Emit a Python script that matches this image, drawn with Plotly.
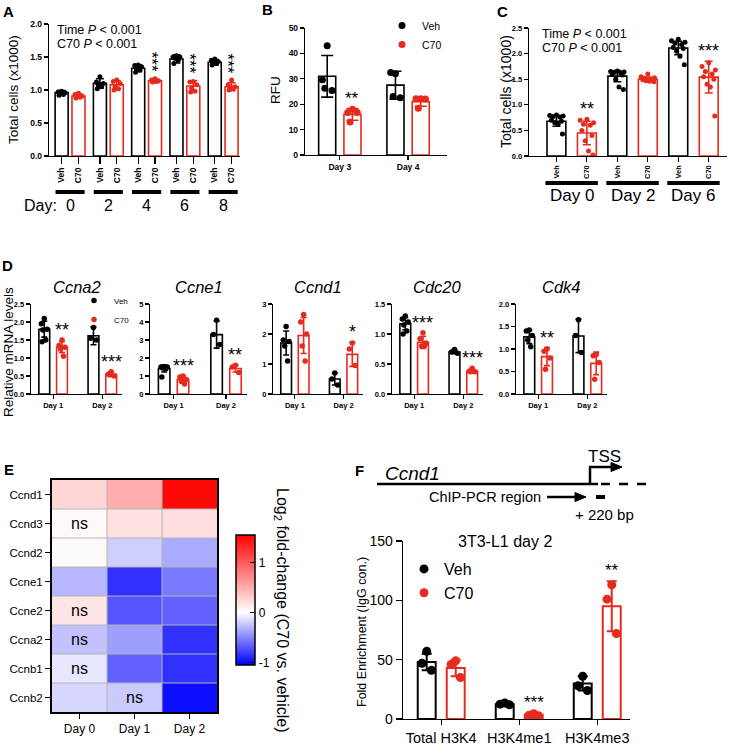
import numpy as np
import plotly.graph_objects as go

W, H = 733, 746
FONT = "Liberation Sans, Arial, Helvetica, sans-serif"
BLACK = "#000000"
RED = "#e62b1e"

# ---------------- Panel A data ----------------
A_days = ["0", "2", "4", "6", "8"]
A_groups = ["Veh", "C70"]
A_veh_mean = [0.96, 1.10, 1.33, 1.47, 1.42]
A_veh_sd = [0.03, 0.07, 0.05, 0.06, 0.04]
A_c70_mean = [0.91, 1.08, 1.14, 1.06, 1.05]
A_c70_sd = [0.03, 0.06, 0.02, 0.08, 0.06]
A_veh_pts = [[0.98, 0.97, 0.96, 0.95, 0.93, 0.92],
             [1.20, 1.12, 1.10, 1.08, 1.05, 1.02],
             [1.38, 1.37, 1.35, 1.32, 1.30, 1.27],
             [1.52, 1.50, 1.50, 1.48, 1.45, 1.40],
             [1.47, 1.45, 1.43, 1.42, 1.40, 1.38]]
A_c70_pts = [[0.95, 0.93, 0.91, 0.90, 0.89, 0.88],
             [1.15, 1.13, 1.10, 1.05, 1.02, 1.00],
             [1.17, 1.15, 1.14, 1.13, 1.13, 1.12],
             [1.13, 1.12, 1.08, 1.03, 0.98, 0.97],
             [1.15, 1.08, 1.05, 1.03, 1.02, 1.00]]
A_sig = ["", "", "***", "***", "***"]
A_stats = ["Time <i>P</i> < 0.001", "C70 <i>P</i> < 0.001"]

# ---------------- Panel B data ----------------
B_days = ["Day 3", "Day 4"]
B_veh_mean = [31.0, 27.5]
B_veh_sd = [8.2, 5.5]
B_c70_mean = [16.0, 21.0]
B_c70_sd = [2.3, 1.8]
B_veh_pts = [[43.0, 29.6, 25.4, 26.3], [32.0, 32.5, 22.5, 23.0]]
B_c70_pts = [[18.0, 16.7, 16.7, 13.0], [22.1, 22.1, 22.0, 18.4]]
B_sig = ["**", ""]

# ---------------- Panel C data ----------------
C_days = ["Day 0", "Day 2", "Day 6"]
C_veh_mean = [0.68, 1.56, 2.11]
C_veh_sd = [0.10, 0.11, 0.13]
C_c70_mean = [0.45, 1.50, 1.54]
C_c70_sd = [0.23, 0.04, 0.31]
C_veh_pts = [[0.80, 0.79, 0.78, 0.77, 0.76, 0.70, 0.68, 0.65, 0.62, 0.43],
             [1.66, 1.65, 1.64, 1.63, 1.62, 1.60, 1.58, 1.50, 1.35, 1.30],
             [2.28, 2.25, 2.22, 2.20, 2.18, 2.12, 2.10, 2.05, 1.95, 1.78]]
C_c70_pts = [[0.72, 0.70, 0.65, 0.62, 0.60, 0.50, 0.40, 0.30, 0.10, 0.02],
             [1.60, 1.55, 1.53, 1.52, 1.50, 1.49, 1.48, 1.47, 1.46, 1.45],
             [1.82, 1.75, 1.68, 1.65, 1.60, 1.55, 1.50, 1.40, 1.35, 0.78]]
C_sig = ["**", "", "***"]

# ---------------- Panel D data ----------------
D_genes = ["Ccna2", "Ccne1", "Ccnd1", "Cdc20", "Cdk4"]
D_days = ["Day 1", "Day 2"]
D_ymax = [2.5, 5, 3, 1.5, 2.0]
D_dtick = [0.5, 1, 1, 0.5, 0.5]
D_veh_mean = [[1.80, 1.62], [1.42, 3.30], [1.70, 0.50], [1.17, 0.70], [1.27, 1.29]]
D_veh_sd = [[0.22, 0.25], [0.20, 0.75], [0.40, 0.20], [0.10, 0.03], [0.15, 0.37]]
D_c70_mean = [[1.30, 0.55], [0.80, 1.42], [1.95, 1.32], [0.86, 0.38], [0.83, 0.68]]
D_c70_sd = [[0.15, 0.07], [0.20, 0.20], [0.60, 0.40], [0.10, 0.03], [0.20, 0.25]]
D_veh_pts = [[[2.10, 1.95, 1.80, 1.78, 1.50, 1.45], [1.85, 1.55, 1.50]],
             [[1.50, 1.50, 1.50, 1.45, 1.40, 0.95], [4.10, 3.30, 2.75]],
             [[2.25, 1.80, 1.75, 1.60, 1.10], [0.70, 0.50, 0.30]],
             [[1.30, 1.25, 1.20, 1.15, 1.05, 1.00], [0.74, 0.70, 0.68]],
             [[1.42, 1.40, 1.30, 1.20, 1.05], [1.65, 1.30, 0.92]]]
D_c70_pts = [[[1.50, 1.35, 1.30, 1.25, 1.05], [0.62, 0.55, 0.50, 0.55]],
             [[1.00, 0.95, 0.80, 0.70, 0.55], [1.60, 1.50, 1.20]],
             [[2.65, 2.40, 2.00, 1.60, 1.10], [1.70, 1.50, 0.95]],
             [[1.02, 0.92, 0.85, 0.80, 0.80], [0.43, 0.38, 0.37, 0.37]],
             [[1.00, 0.95, 0.80, 0.55], [0.88, 0.85, 0.70, 0.33]]]
D_sig = [["**", "***"], ["***", "**"], ["", "*"], ["***", "***"], ["**", ""]]

# ---------------- Panel E data ----------------
E_genes = ["Ccnd1", "Ccnd3", "Ccnd2", "Ccne1", "Ccne2", "Ccna2", "Ccnb1", "Ccnb2"]
E_days = ["Day 0", "Day 1", "Day 2"]
E_log2fc = [[0.25, 0.50, 1.50],
            [0.04, 0.18, 0.20],
            [0.03, -0.20, -0.35],
            [-0.30, -0.85, -0.55],
            [0.15, -0.70, -0.65],
            [-0.25, -0.40, -0.85],
            [-0.10, -0.65, -0.85],
            [-0.17, -0.22, -1.00]]
E_ns = [["", "", ""], ["ns", "", ""], ["", "", ""], ["", "", ""],
        ["ns", "", ""], ["ns", "", ""], ["ns", "", ""], ["", "ns", ""]]

# ---------------- Panel F data ----------------
F_marks = ["Total H3K4", "H3K4me1", "H3K4me3"]
F_veh_mean = [48.0, 12.5, 30.0]
F_veh_sd = [7.0, 1.0, 6.0]
F_c70_mean = [43.0, 3.5, 95.0]
F_c70_sd = [7.0, 1.0, 21.0]
F_veh_pts = [[57.0, 47.0, 41.0], [13.5, 12.5, 12.0], [36.0, 28.0, 24.0]]
F_c70_pts = [[49.0, 46.0, 35.0], [4.5, 3.2, 2.8], [113.0, 101.0, 72.0]]
F_sig = ["", "***", "**"]

# ================= helpers =================
def PX(x):
    return x / W


def PY(y):
    return 1 - y / H


fig = go.Figure()
layout = {}
annotations = []
shapes = []

JIT = [0, -1, 1, -0.5, 0.5, -0.75, 0.75, -0.25, 0.25, 0.9]


def ax_names(n):
    if n == 1:
        return "x", "y", "xaxis", "yaxis"
    return f"x{n}", f"y{n}", f"xaxis{n}", f"yaxis{n}"


def setup_axes(n, xpx, ypx, xrange, yrange, xtick, xfont, yfont,
               xangle=0, dtick=None, yfmt=None, lw=1.2, xticklen=4):
    xn, yn, xk, yk = ax_names(n)
    layout[xk] = dict(domain=[PX(xpx[0]), PX(xpx[1])], anchor=yn, range=xrange,
                      tickvals=xtick[0], ticktext=xtick[1], tickangle=xangle,
                      showline=True, linecolor=BLACK, linewidth=lw, ticks="outside",
                      ticklen=xticklen, tickwidth=lw, tickcolor=BLACK, showgrid=False,
                      zeroline=False, tickfont=xfont, fixedrange=True, automargin=False)
    yd = dict(domain=[PY(ypx[1]), PY(ypx[0])], anchor=xn, range=yrange,
              showline=True, linecolor=BLACK, linewidth=lw, ticks="outside",
              ticklen=4, tickwidth=lw, tickcolor=BLACK, showgrid=False,
              zeroline=False, tickfont=yfont, fixedrange=True, automargin=False)
    if dtick is not None:
        yd.update(tick0=0, dtick=dtick)
    if yfmt is not None:
        yd["tickformat"] = yfmt
    layout[yk] = yd
    return xn, yn


def bar_panel(n, centers, off, bw, series, lw, msize, capw, spread, legend=None):
    xn, yn, _, _ = ax_names(n)
    xs_all = []
    for k, (name, color, means, sds, pts) in enumerate(series):
        sign = -1 if k == 0 else 1
        xs = [c + sign * off for c in centers]
        xs_all.append(xs)
        fig.add_trace(go.Bar(
            x=xs, y=means, width=bw,
            marker=dict(color="white", line=dict(color=color, width=lw)),
            error_y=dict(type="data", array=sds, visible=True, color=color,
                         thickness=lw, width=capw),
            xaxis=xn, yaxis=yn, showlegend=False, hoverinfo="skip"))
    for k, (name, color, means, sds, pts) in enumerate(series):
        xx, yy = [], []
        for xi, p in zip(xs_all[k], pts):
            xx += list(xi + np.array(JIT[:len(p)]) * spread)
            yy += list(p)
        fig.add_trace(go.Scatter(
            x=xx, y=yy, mode="markers", name=name,
            marker=dict(color=color, size=msize, line=dict(width=0)),
            xaxis=xn, yaxis=yn, showlegend=legend is not None,
            legend=legend if legend else "legend", hoverinfo="skip"))
    return xs_all


def star_ann(n, x, top, text, ppu, size, gap_px=10, vertical=False):
    xn, yn, _, _ = ax_names(n)
    annotations.append(dict(
        x=x, y=top + gap_px / ppu, xref=xn, yref=yn, text=text, showarrow=False,
        font=dict(size=size, color=BLACK, family=FONT),
        textangle=90 if vertical else 0, yanchor="middle", xanchor="center",
        xshift=-4 if vertical else 0))


def paper_text(x, y, text, size, xanchor="center", yanchor="middle", angle=0,
               bold=False, italic=False, color=BLACK):
    if italic:
        text = f"<i>{text}</i>"
    annotations.append(dict(
        x=PX(x), y=PY(y), xref="paper", yref="paper", text=text, showarrow=False,
        font=dict(size=size, color=color, family=FONT,
                  weight="bold" if bold else "normal"),
        xanchor=xanchor, yanchor=yanchor, textangle=angle))


def paper_line(x0, y0, x1, y1, width, dash="solid"):
    shapes.append(dict(type="line", xref="paper", yref="paper", x0=PX(x0), x1=PX(x1),
                       y0=PY(y0), y1=PY(y1), line=dict(color=BLACK, width=width, dash=dash)))


def paper_arrowhead(xtip, y, length, half):
    path = (f"M {PX(xtip)},{PY(y)} L {PX(xtip - length)},{PY(y - half)} "
            f"L {PX(xtip - length)},{PY(y + half)} Z")
    shapes.append(dict(type="path", xref="paper", yref="paper", path=path,
                       fillcolor=BLACK, line=dict(color=BLACK, width=1)))


BOLD9 = dict(size=8.5, family=FONT, color=BLACK, weight="bold")
BOLD8 = dict(size=7.5, family=FONT, color=BLACK, weight="bold")

# ================= Panel A =================
A_centers = list(range(len(A_days)))
A_off = 0.22
ticks_x = []
ticks_t = []
for c in A_centers:
    ticks_x += [c - A_off, c + A_off]
    ticks_t += A_groups
setup_axes(1, (49, 240), (24, 156), [-0.55, 4.44], [0, 2.0],
           (ticks_x, ticks_t), BOLD9, BOLD9, xangle=-90, dtick=0.5, yfmt=".1f",
           xticklen=7)
bar_panel(1, A_centers, A_off, 0.34,
          [("Veh", BLACK, A_veh_mean, A_veh_sd, A_veh_pts),
           ("C70", RED, A_c70_mean, A_c70_sd, A_c70_pts)],
          lw=1.6, msize=5, capw=4, spread=0.09)
ppuA = 132 / 2.0
for i, s in enumerate(A_sig):
    if s:
        top = max(max(A_c70_pts[i]), A_c70_mean[i] + A_c70_sd[i])
        star_ann(1, i + A_off, top, s, ppuA, 17, gap_px=17, vertical=True)
for i in A_centers:
    shapes.append(dict(type="line", xref="x", yref="paper", x0=i - 0.38, x1=i + 0.38,
                       y0=PY(192), y1=PY(192), line=dict(color=BLACK, width=4)))
    annotations.append(dict(x=i, y=PY(205), xref="x", yref="paper", text=A_days[i],
                            showarrow=False, font=dict(size=16, family=FONT, color=BLACK),
                            xanchor="center", yanchor="middle"))
paper_text(22, 205, "Day:", 16, xanchor="left")
paper_text(55, 30, A_stats[0], 12.5, xanchor="left")
paper_text(55, 44, A_stats[1], 12.5, xanchor="left")
paper_text(14, 90, "Total cells (x1000)", 13.5, angle=-90)
paper_text(8, 11, "A", 15, bold=True)

# ================= Panel B =================
B_centers = [0, 1]
setup_axes(2, (305, 447), (28, 155), [-0.51, 1.57], [0, 50],
           (B_centers, B_days), BOLD9, BOLD9, dtick=10)
bar_panel(2, B_centers, 0.185, 0.25,
          [("Veh", BLACK, B_veh_mean, B_veh_sd, B_veh_pts),
           ("C70", RED, B_c70_mean, B_c70_sd, B_c70_pts)],
          lw=1.6, msize=7, capw=6, spread=0.07, legend="legend")
for i, s in enumerate(B_sig):
    if s:
        top = max(max(B_c70_pts[i]), B_c70_mean[i] + B_c70_sd[i])
        star_ann(2, i + 0.185, top, s, 127 / 50, 17, gap_px=10)
paper_text(276, 90, "RFU", 13.5, angle=-90)
paper_text(267, 9, "B", 15, bold=True)

# ================= Panel C =================
C_centers = [0, 1, 2]
C_off = 0.25
ticks_x = []
ticks_t = []
for c in C_centers:
    ticks_x += [c - C_off, c + C_off]
    ticks_t += A_groups
setup_axes(3, (529, 727), (28, 156), [-0.70, 2.55], [0, 2.5],
           (ticks_x, ticks_t), BOLD8, BOLD8, xangle=-90, dtick=0.5, yfmt=".1f",
           xticklen=5)
bar_panel(3, C_centers, C_off, 0.31,
          [("Veh", BLACK, C_veh_mean, C_veh_sd, C_veh_pts),
           ("C70", RED, C_c70_mean, C_c70_sd, C_c70_pts)],
          lw=1.6, msize=5, capw=4, spread=0.11)
for i, s in enumerate(C_sig):
    if s:
        top = max(max(C_c70_pts[i]), C_c70_mean[i] + C_c70_sd[i])
        star_ann(3, i + C_off, top, s, 128 / 2.5, 18, gap_px=10)
for i in C_centers:
    shapes.append(dict(type="line", xref="x3", yref="paper", x0=i - 0.43, x1=i + 0.43,
                       y0=PY(183), y1=PY(183), line=dict(color=BLACK, width=4)))
    annotations.append(dict(x=i, y=PY(196), xref="x3", yref="paper", text=C_days[i],
                            showarrow=False, font=dict(size=17, family=FONT, color=BLACK),
                            xanchor="center", yanchor="middle"))
paper_text(540, 34, A_stats[0], 12.5, xanchor="left")
paper_text(540, 48, A_stats[1], 12.5, xanchor="left")
paper_text(506, 92, "Total cells (x1000)", 14, angle=-90)
paper_text(502, 11, "C", 15, bold=True)

# ================= Panel D =================
D_xpx = [(31, 122), (150, 247), (273, 363), (392, 483), (516, 607)]
D_centers = [0, 1]
for g in range(len(D_genes)):
    n = 4 + g
    fmt = ".1f" if D_dtick[g] < 1 else None
    setup_axes(n, D_xpx[g], (304, 394), [-0.45, 1.40], [0, D_ymax[g]],
               (D_centers, D_days), BOLD8, BOLD8, dtick=D_dtick[g], yfmt=fmt)
    bar_panel(n, D_centers, 0.18, 0.22,
              [("Veh", BLACK, D_veh_mean[g], D_veh_sd[g], D_veh_pts[g]),
               ("C70", RED, D_c70_mean[g], D_c70_sd[g], D_c70_pts[g])],
              lw=1.6, msize=5.5, capw=3, spread=0.06,
              legend="legend2" if g == 0 else None)
    ppu = 90 / D_ymax[g]
    for i, s in enumerate(D_sig[g]):
        if s:
            top = max(max(D_c70_pts[g][i]), D_c70_mean[g][i] + D_c70_sd[g][i])
            star_ann(n, i + 0.18, top, s, ppu, 18, gap_px=10)
    paper_text((D_xpx[g][0] + D_xpx[g][1]) / 2, 287, D_genes[g], 16.5, italic=True)
paper_text(8, 352, "Relative mRNA levels", 13.5, angle=-90)
paper_text(7, 265, "D", 15, bold=True)

# ================= Panel E =================
zmin, zmax = -1.05, 1.55
wpos = (0 - zmin) / (zmax - zmin)
fig.add_trace(go.Heatmap(
    z=E_log2fc, x=list(range(len(E_days))), y=list(range(len(E_genes))),
    zmin=zmin, zmax=zmax,
    colorscale=[[0, "rgb(0,0,255)"], [wpos, "rgb(255,255,255)"], [1, "rgb(255,0,0)"]],
    xaxis="x9", yaxis="y9", hoverinfo="skip",
    colorbar=dict(x=PX(236), xanchor="left", y=PY(600), yanchor="middle",
                  len=130 / H, lenmode="fraction", thickness=19, thicknessmode="pixels",
                  outlinewidth=1.5, outlinecolor=BLACK, tickvals=[-1, 0, 1],
                  ticktext=["-1", "0", "1"], ticks="inside", ticklen=5, tickwidth=1.2,
                  tickcolor=BLACK, tickfont=dict(size=12, family=FONT, color=BLACK),
                  xpad=0, ypad=0)))
layout["xaxis9"] = dict(domain=[PX(52), PX(217)], anchor="y9", range=[-0.5, 2.5],
                        tickvals=list(range(3)), ticktext=E_days, showline=True,
                        mirror=True, linecolor=BLACK, linewidth=2, ticks="outside",
                        ticklen=5, tickwidth=1.5, tickcolor=BLACK, showgrid=False,
                        zeroline=False, tickfont=dict(size=12, family=FONT, color=BLACK),
                        automargin=False, fixedrange=True)
layout["yaxis9"] = dict(domain=[PY(712), PY(480)], anchor="x9", range=[7.5, -0.5],
                        tickvals=list(range(8)), ticktext=E_genes, showline=True,
                        mirror=True, linecolor=BLACK, linewidth=2, ticks="outside",
                        ticklen=5, tickwidth=1.5, tickcolor=BLACK, showgrid=False,
                        zeroline=False, tickfont=dict(size=11.5, family=FONT, color=BLACK),
                        automargin=False, fixedrange=True)
for xv in [0.5, 1.5]:
    shapes.append(dict(type="line", xref="x9", yref="y9", x0=xv, x1=xv, y0=-0.5, y1=7.5,
                       line=dict(color="#b4b4b4", width=1), layer="above"))
for yv in np.arange(0.5, 7.0, 1.0):
    shapes.append(dict(type="line", xref="x9", yref="y9", x0=-0.5, x1=2.5, y0=yv, y1=yv,
                       line=dict(color="#b4b4b4", width=1), layer="above"))
for r, row in enumerate(E_ns):
    for c, t in enumerate(row):
        if t:
            annotations.append(dict(x=c, y=r, xref="x9", yref="y9", text=t, showarrow=False,
                                    font=dict(size=16, family=FONT, color=BLACK)))
paper_text(282, 610, "Log<sub>2</sub> fold-change (C70 vs. vehicle)", 16, angle=90)
paper_text(9, 469, "E", 15, bold=True)

# ================= Panel F =================
F_centers = [0, 1, 2]
setup_axes(10, (403, 630), (541, 719), [-0.49, 2.42], [0, 150],
           (F_centers, F_marks), dict(size=14.5, family=FONT, color=BLACK),
           dict(size=14, family=FONT, color=BLACK), dtick=50, lw=1.4, xticklen=5)
layout["yaxis10"]["ticklen"] = 6
bar_panel(10, F_centers, 0.186, 0.23,
          [("Veh", BLACK, F_veh_mean, F_veh_sd, F_veh_pts),
           ("C70", RED, F_c70_mean, F_c70_sd, F_c70_pts)],
          lw=2, msize=9, capw=5, spread=0.06, legend="legend3")
for i, s in enumerate(F_sig):
    if s:
        top = max(max(F_c70_pts[i]), F_c70_mean[i] + F_c70_sd[i])
        star_ann(10, i + 0.186, top, s, 178 / 150, 17, gap_px=11)
paper_text(505, 541, "3T3-L1 day 2", 16)
paper_text(362, 632, "Fold Enrichment (IgG con.)", 12.5, angle=-90)
paper_text(359, 470, "F", 15, bold=True)
# gene diagram
paper_text(383, 473, "Ccnd1", 19, xanchor="left", italic=True)
paper_line(377, 484, 598, 484, 2.5)
paper_line(601, 484, 654, 484, 2.5, dash="dash")
paper_line(590, 485, 590, 467, 2.5)
paper_line(589, 467, 612, 467, 2.5)
paper_arrowhead(622, 467, 11, 4.5)
paper_text(604, 456, "TSS", 17)
paper_text(485, 497, "ChIP-PCR region", 14.5)
paper_line(547, 497, 576, 497, 2.5)
paper_arrowhead(586, 497, 11, 4.5)
paper_line(596, 497, 605, 497, 4)
paper_text(604, 514, "+ 220 bp", 15)

# ================= layout =================
leg_common = dict(xanchor="left", yanchor="top", bgcolor="rgba(0,0,0,0)",
                  borderwidth=0, itemwidth=30, tracegroupgap=0)
layout["legend"] = dict(x=PX(382), y=PY(11), font=dict(size=10.5, family=FONT, color=BLACK),
                        **leg_common)
layout["legend2"] = dict(x=PX(74), y=PY(286), font=dict(size=8, family=FONT, color=BLACK),
                         **leg_common)
layout["legend3"] = dict(x=PX(404), y=PY(552), font=dict(size=16, family=FONT, color=BLACK),
                         **leg_common)

fig.update_layout(
    width=W, height=H, autosize=False,
    margin=dict(l=0, r=0, t=0, b=0, pad=0, autoexpand=False),
    paper_bgcolor="white", plot_bgcolor="white",
    barmode="overlay", showlegend=True, hovermode=False,
    font=dict(family=FONT, color=BLACK),
    annotations=annotations, shapes=shapes,
    **layout)

fig.write_html("out.html", config={"displayModeBar": False, "staticPlot": True},
               post_script="document.body.style.margin='0';document.body.style.overflow='hidden';")
